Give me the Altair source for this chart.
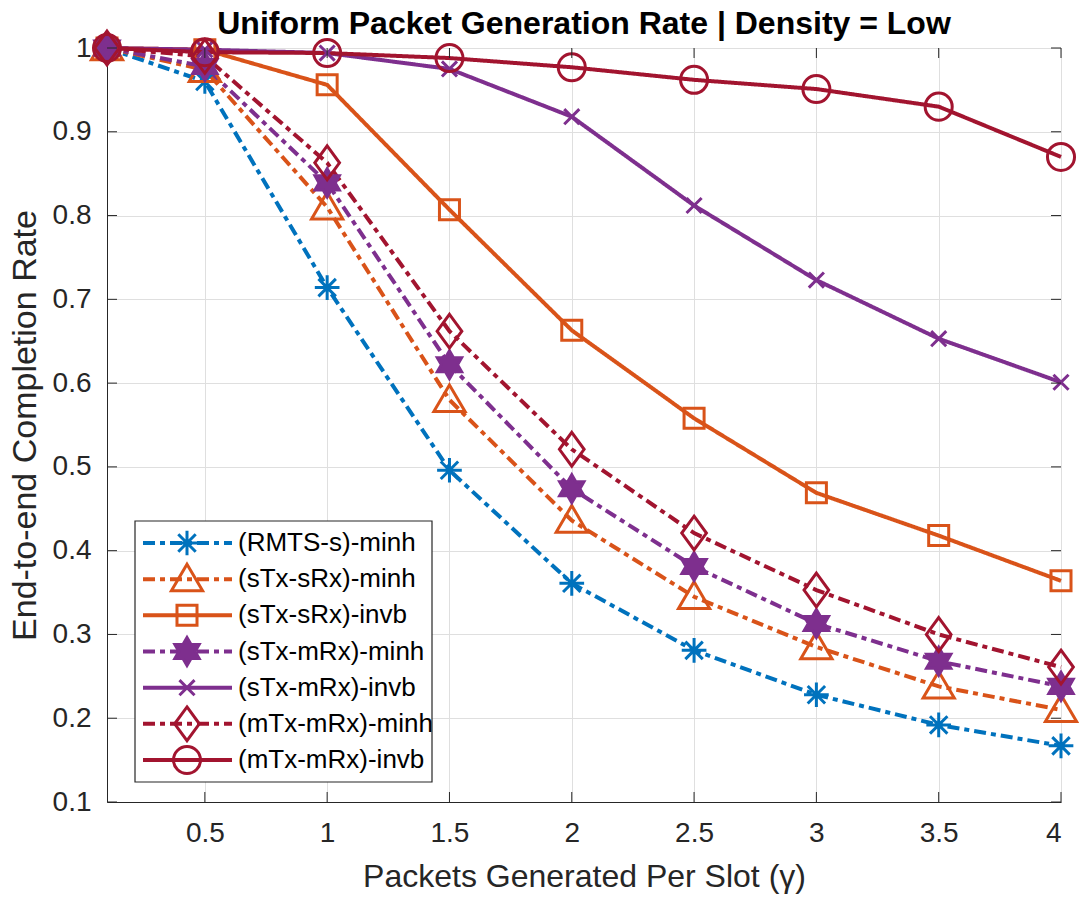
import altair as alt
import pandas as pd

# Packet generation rate (gamma)
gamma = [0.1, 0.5, 1.0, 1.5, 2.0, 2.5, 3.0, 3.5, 4.0]

series_names = [
    "(RMTS-s)-minh",
    "(sTx-sRx)-minh",
    "(sTx-sRx)-invb",
    "(sTx-mRx)-minh",
    "(sTx-mRx)-invb",
    "(mTx-mRx)-minh",
    "(mTx-mRx)-invb",
]

rmts_s_minh = [1.000, 0.960, 0.714, 0.496, 0.361, 0.281, 0.228, 0.192, 0.167]
stx_srx_minh = [1.000, 0.974, 0.810, 0.580, 0.436, 0.345, 0.285, 0.238, 0.210]
stx_srx_invb = [1.000, 0.998, 0.956, 0.807, 0.663, 0.558, 0.469, 0.418, 0.364]
stx_mrx_minh = [1.000, 0.978, 0.839, 0.622, 0.474, 0.381, 0.313, 0.268, 0.238]
stx_mrx_invb = [1.000, 0.998, 0.994, 0.975, 0.918, 0.812, 0.723, 0.653, 0.601]
mtx_mrx_minh = [1.000, 0.990, 0.863, 0.662, 0.521, 0.421, 0.353, 0.300, 0.261]
mtx_mrx_invb = [1.000, 0.995, 0.994, 0.988, 0.977, 0.962, 0.951, 0.930, 0.870]

all_series = [rmts_s_minh, stx_srx_minh, stx_srx_invb, stx_mrx_minh,
              stx_mrx_invb, mtx_mrx_minh, mtx_mrx_invb]

title_text = "Uniform Packet Generation Rate | Density = Low"

colors = ["#0072BD", "#D95319", "#D95319", "#7E2F8E", "#7E2F8E", "#A2142F", "#A2142F"]
# the hexagram marker reads as a solid star; the other markers stay hollow
fills = ["transparent", "transparent", "transparent", "#7E2F8E",
         "transparent", "transparent", "transparent"]
dash_dot = [12, 5, 5, 5]
solid = [1, 0]
dashes = [dash_dot, dash_dot, solid, dash_dot, solid, dash_dot, solid]

# Marker outlines in the unit square (-1..1)
asterisk = "M0,-0.95L0,0.95M-0.95,0L0.95,0M-0.67,-0.67L0.67,0.67M-0.67,0.67L0.67,-0.67"
triangle = "M0,-1.15L1.2,0.9L-1.2,0.9Z"
square = "M-0.77,-0.77L0.77,-0.77L0.77,0.77L-0.77,0.77Z"
hexagram = ("M0,-1.08L0.3118,-0.54L0.9353,-0.54L0.6235,0L0.9353,0.54L0.3118,0.54"
            "L0,1.08L-0.3118,0.54L-0.9353,0.54L-0.6235,0L-0.9353,-0.54L-0.3118,-0.54Z")
xmark = "M-0.58,-0.58L0.58,0.58M-0.58,0.58L0.58,-0.58"
diamond = "M0,-1.3L0.95,0L0,1.3L-0.95,0Z"
circle = "M1.04,0A1.04,1.04,0,1,1,-1.04,0A1.04,1.04,0,1,1,1.04,0Z"
shapes = [asterisk, triangle, square, hexagram, xmark, diamond, circle]

x_ticks = [0.5, 1.0, 1.5, 2.0, 2.5, 3.0, 3.5, 4.0]
y_ticks = [0.1, 0.2, 0.3, 0.4, 0.5, 0.6, 0.7, 0.8, 0.9, 1.0]

rows = []
for name, vals in zip(series_names, all_series):
    for g, v in zip(gamma, vals):
        rows.append({"gamma": g, "rate": v, "series": name})
df = pd.DataFrame(rows)

W, H = 954, 754
FONT = "Liberation Sans"
AX = "#262626"
MARK_SIZE = 676

color_scale = alt.Scale(domain=series_names, range=colors)
fill_scale = alt.Scale(domain=series_names, range=fills)
dash_scale = alt.Scale(domain=series_names, range=dashes)
shape_scale = alt.Scale(domain=series_names, range=shapes)

x_enc = alt.X(
    "gamma:Q",
    scale=alt.Scale(domain=[0.1, 4.0], nice=False, zero=False),
    axis=alt.Axis(
        values=x_ticks, format="~g", title="Packets Generated Per Slot (γ)",
        grid=True, gridColor="#dfdfdf", gridWidth=1, ticks=False, tickSize=0,
        domainColor=AX, labelColor=AX, labelFontSize=28, labelFont=FONT,
        labelPadding=17, titleFont=FONT, titleFontSize=32, titleFontWeight="normal",
        titleColor=AX, titlePadding=14,
    ),
)
y_enc = alt.Y(
    "rate:Q",
    scale=alt.Scale(domain=[0.1, 1.0], nice=False, zero=False),
    axis=alt.Axis(
        values=y_ticks, format="~g", title="End-to-end Completion Rate",
        grid=True, gridColor="#dfdfdf", gridWidth=1, ticks=False, tickSize=0,
        domainColor=AX, labelColor=AX, labelFontSize=28, labelFont=FONT,
        labelPadding=16, titleFont=FONT, titleFontSize=34, titleFontWeight="normal",
        titleColor=AX, titlePadding=10,
    ),
)

base = alt.Chart(df)

lines = base.mark_line(strokeWidth=4, strokeCap="butt").encode(
    x=x_enc,
    y=y_enc,
    color=alt.Color("series:N", scale=color_scale, legend=None),
    strokeDash=alt.StrokeDash("series:N", scale=dash_scale, legend=None),
    detail="series:N",
)

points = base.mark_point(filled=False, strokeWidth=3, size=MARK_SIZE, opacity=1).encode(
    x="gamma:Q",
    y="rate:Q",
    color=alt.Color("series:N", scale=color_scale, legend=None),
    fill=alt.Fill("series:N", scale=fill_scale, legend=None),
    shape=alt.Shape("series:N", scale=shape_scale, legend=None),
)

# Inward-pointing ticks on all four sides of the box
xt = alt.Chart(pd.DataFrame({"gamma": x_ticks}))
yt = alt.Chart(pd.DataFrame({"rate": y_ticks}))
tick_style = dict(color=AX, strokeWidth=1)
x_ticks_bottom = xt.mark_rule(**tick_style).encode(
    x="gamma:Q", y=alt.value(H), y2=alt.value(H - 10))
x_ticks_top = xt.mark_rule(**tick_style).encode(
    x="gamma:Q", y=alt.value(0), y2=alt.value(10))
y_ticks_left = yt.mark_rule(**tick_style).encode(
    y="rate:Q", x=alt.value(0), x2=alt.value(10))
y_ticks_right = yt.mark_rule(**tick_style).encode(
    y="rate:Q", x=alt.value(W), x2=alt.value(W - 10))

main = alt.layer(lines, points, x_ticks_bottom, x_ticks_top, y_ticks_left, y_ticks_right)

# Legend box with a line sample, a marker and a label per series
leg_df = pd.DataFrame({"series": series_names, "row": list(range(len(series_names)))})
leg = alt.Chart(leg_df)
row_y = alt.Y("row:Q", scale=alt.Scale(domain=[0, 6], range=[495, 712]), axis=None)

leg_box = alt.Chart(pd.DataFrame({"k": [0]})).mark_rect(
    fill="white", stroke=AX, strokeWidth=1.2
).encode(x=alt.value(28), x2=alt.value(325), y=alt.value(473), y2=alt.value(734))

leg_lines = leg.mark_rule(strokeWidth=4, strokeCap="butt").encode(
    x=alt.value(36), x2=alt.value(125), y=row_y,
    color=alt.Color("series:N", scale=color_scale, legend=None),
    strokeDash=alt.StrokeDash("series:N", scale=dash_scale, legend=None),
)
leg_marks = leg.mark_point(filled=False, strokeWidth=3, size=MARK_SIZE, opacity=1).encode(
    x=alt.value(80), y=row_y,
    color=alt.Color("series:N", scale=color_scale, legend=None),
    fill=alt.Fill("series:N", scale=fill_scale, legend=None),
    shape=alt.Shape("series:N", scale=shape_scale, legend=None),
)
leg_text = leg.mark_text(align="left", baseline="middle", fontSize=26, font=FONT,
                         color="#000000").encode(
    x=alt.value(131), y=row_y, text="series:N")

# Chart heading, centred over the plot box
heading = alt.Chart(pd.DataFrame({"t": [title_text]})).mark_text(
    align="center", baseline="alphabetic", fontSize=32, fontWeight="bold",
    font=FONT, color="#000000"
).encode(x=alt.value(W / 2), y=alt.value(-14), text="t:N")

legend = alt.layer(leg_box, leg_lines, leg_marks, leg_text, heading)

chart = alt.layer(main, legend).resolve_scale(y="independent").properties(
    width=W,
    height=H,
    autosize=alt.AutoSizeParams(type="none"),
    padding={"left": 107, "top": 48, "right": 19, "bottom": 99},
).configure_view(stroke=AX, strokeWidth=1).configure(background="white")

chart.save("out.html", embed_options={"renderer": "svg", "actions": False})
